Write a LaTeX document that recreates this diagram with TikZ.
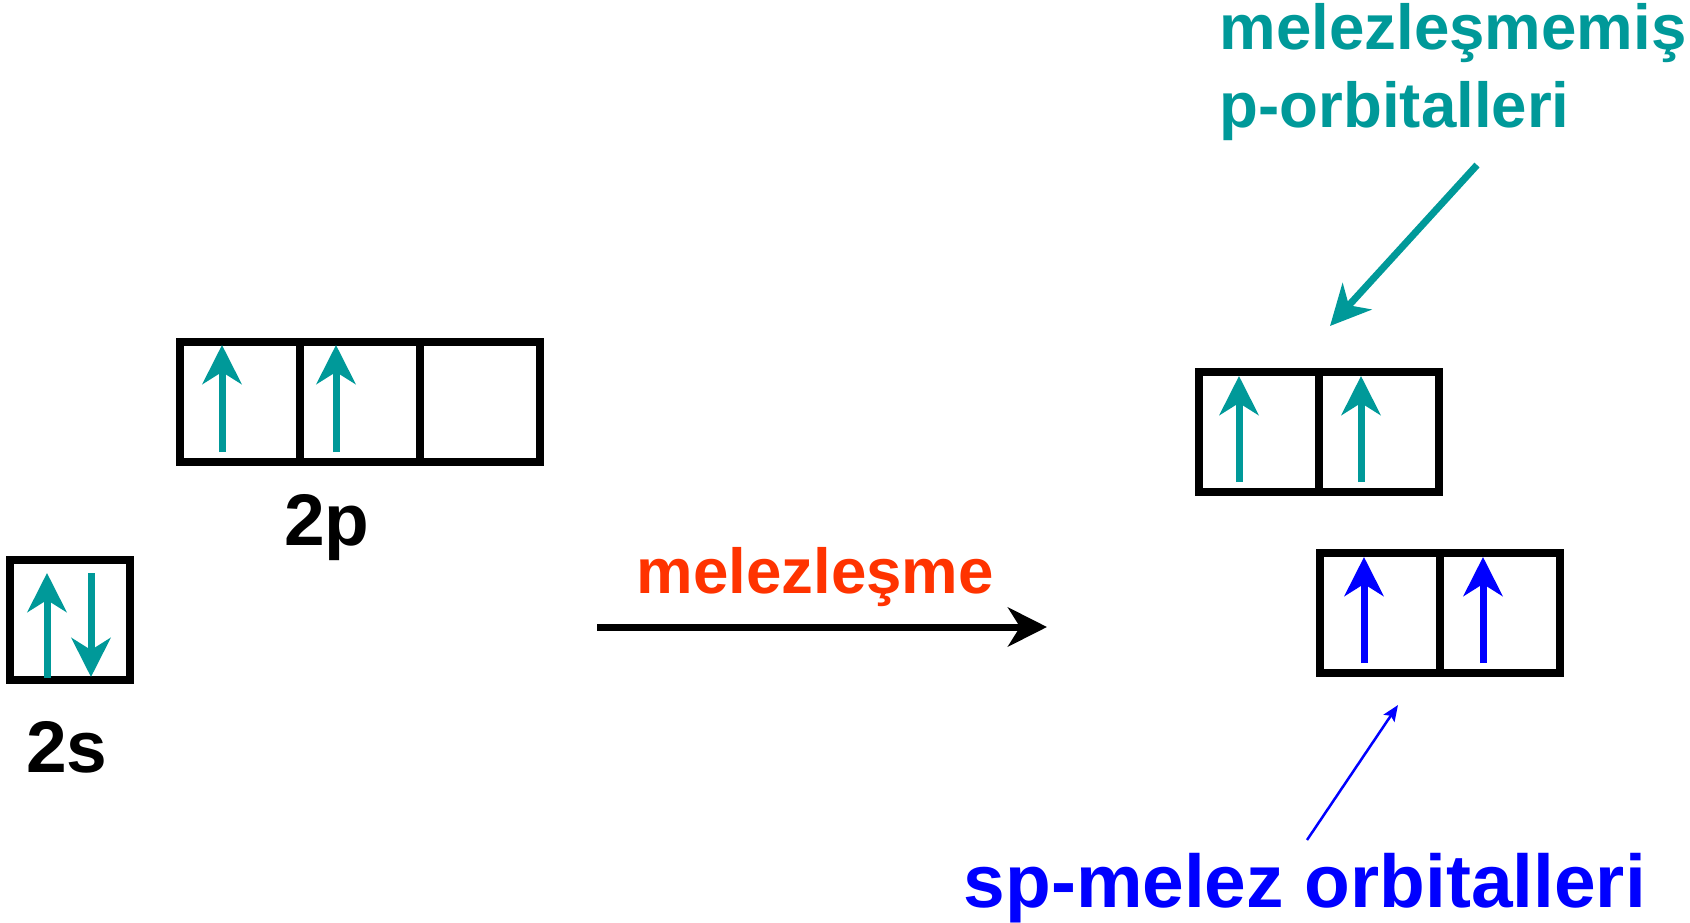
\documentclass[tikz,border=0pt]{standalone}
\usepackage{fontspec}
\setmainfont{Liberation Sans}
\usetikzlibrary{arrows.meta}
\definecolor{spinteal}{RGB}{0,153,153}
\definecolor{hybred}{RGB}{255,51,0}
\definecolor{hybblue}{RGB}{0,0,255}
\begin{document}
\begin{tikzpicture}[
    x=0.1mm, y=-0.1mm,
    every node/.append style={inner sep=0pt},
    orb/.style={draw, line width=0.8mm, minimum size=12mm, outer sep=0pt},
    spin/.style={spinteal, line width=0.7mm,
        -{Stealth[length=3.9mm,width=3.9mm,inset=1.2mm]}},
    big/.style={font=\fontsize{20.8}{24}\selectfont\bfseries},
    mid/.style={font=\fontsize{18.1}{21}\selectfont\bfseries}
]
    \useasboundingbox (0,0) rectangle (1690,923);
    % 2s
    \node[orb] (s) at (70,620) {};
    \draw[spin] ([shift={(-23,-2)}]s.south) -- ([shift={(-23,13)}]s.north);
    \draw[spin] ([shift={(21,13)}]s.north) -- ([shift={(21,-3)}]s.south);
    \node[big, anchor=base] (lbls) at (67,772) {2s};
    % 2p
    \foreach \i/\x in {1/240,2/360,3/480}
        \node[orb] (p\i) at (\x,402) {};
    \foreach \i/\d in {1/-18,2/-24}
        \draw[spin] ([shift={(\d,-10)}]p\i.south) -- ([shift={(\d,3)}]p\i.north);
    \node[big, anchor=base] (lblp) at (327,545) {2p};
    % melezlesme
    \coordinate (from) at (597,627);
    \coordinate (to) at (1047,627);
    \draw[line width=0.7mm, -{Stealth[length=3.9mm,width=3.9mm,inset=1.2mm]}] (from) -- (to);
    \node[mid, hybred, anchor=base west] (lblh) at (636,593) {melezleşme};
    % unhybridised p
    \foreach \i/\x in {1/1259,2/1379}
        \node[orb] (u\i) at (\x,432) {};
    \foreach \i/\d in {1/-20,2/-18}
        \draw[spin] ([shift={(\d,-10)}]u\i.south) -- ([shift={(\d,4)}]u\i.north);
    % sp hybrids
    \foreach \i/\x in {1/1380,2/1500}
        \node[orb] (h\i) at (\x,613) {};
    \foreach \i/\d in {1/-16,2/-17}
        \draw[spin, hybblue] ([shift={(\d,-10)}]h\i.south) -- ([shift={(\d,4)}]h\i.north);
    % labels
    \node[mid, spinteal, anchor=base west] (lblu) at (1219,50) {melezleşmemiş};
    \node[mid, spinteal, anchor=base west] (lblu2) at (1219,128) {p-orbitalleri};
    \coordinate (ufrom) at (1477,165);
    \coordinate (uto) at (1330,326);
    \draw[spinteal, line width=0.7mm, -{Stealth[length=4mm,width=3.9mm,inset=1.2mm]}] (ufrom) -- (uto);
    \node[font=\fontsize{21.3}{25}\selectfont\bfseries, hybblue, anchor=base west] (lblsp) at (963,907) {sp-melez orbitalleri};
    \coordinate (hfrom) at (1307,840);
    \coordinate (hto) at (1398,705);
    \draw[hybblue, line width=0.25mm, -{Stealth[length=1.6mm,width=1.3mm,inset=0.3mm]}] (hfrom) -- (hto);
\end{tikzpicture}
\end{document}
